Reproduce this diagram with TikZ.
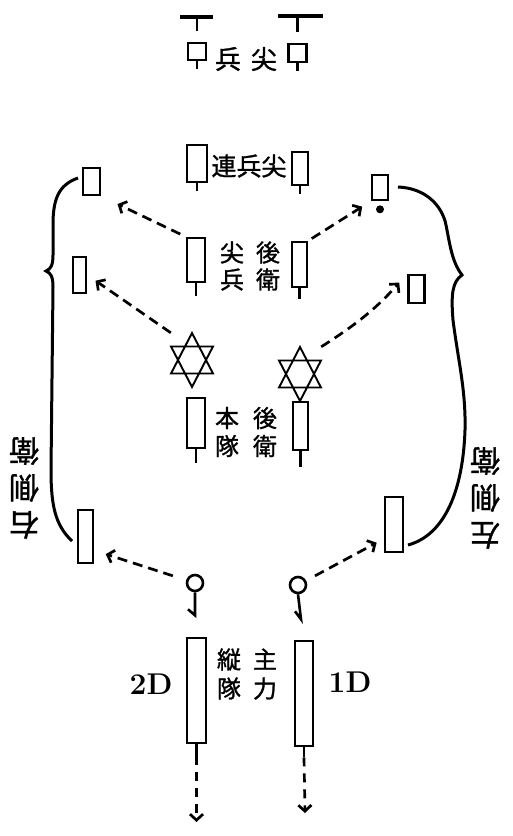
\documentclass[tikz,border=0pt]{standalone}
\usepackage{fontspec}
\newfontfamily\cjk{Noto Sans CJK JP}[RawFeature={embolden=1.2}]
\usepackage{tikz}
\usetikzlibrary{arrows.meta, positioning, calc}
\tikzstyle{unit} = [rectangle, draw=black, line width=2.6pt, inner sep=0pt, minimum width=16pt, fill=white]
\tikzstyle{spot} = [rectangle, inner sep=0pt, minimum width=42pt, minimum height=54pt]
\tikzstyle{ring} = [circle, draw=black, line width=2.6pt, inner sep=0pt, minimum size=16pt]
\tikzstyle{pole} = [line width=2.6pt]
\tikzstyle{kanji} = [inner sep=0pt, align=center, font=\cjk\fontsize{24}{27}\selectfont]
\tikzstyle{dasharrow} = [line width=2.7pt, dash pattern=on 10pt off 6pt, -{Straight Barb[length=6pt, width=13pt]}]
\tikzset{hexagram/.pic={\draw[line width=1.9pt] (0,-27) -- (21,13.5) -- (-21,13.5) -- cycle (0,27) -- (21,-13.5) -- (-21,-13.5) -- cycle;}}

\begin{document}
\begin{tikzpicture}[x=1pt, y=-1pt]
\useasboundingbox (0,0) rectangle (512,836);

% point
\node (t1) [unit, minimum width=18pt, minimum height=17pt] at (197,51.5) {};
\node (t2) [unit, minimum width=18pt, minimum height=18pt] at (297.5,53) {};
\node (t0) [kanji, font=\cjk\fontsize{26}{28}\selectfont] at (246,59) {兵\hspace{10pt}尖};
\draw[pole] (t1.north) ++(0,-11) -- ++(0,-14);
\draw[pole] (t2.north) ++(0,-11) -- ++(0,-16);
\draw[line width=4pt] (t1.north) ++(-17,-25) -- ++(33,0);
\draw[line width=4pt] (t2.north) ++(-20,-27) -- ++(45,0);
\draw[pole] (t1.south) -- ++(0,8);
\draw[pole] (t2.south) -- ++(0,8);

% company
\node (a1) [unit, minimum width=20pt, minimum height=37pt] at (197,163.5) {};
\node (a2) [unit, minimum height=33pt] at (300,168.5) {};
\node (a0) [kanji, font=\cjk\fontsize{25}{28}\selectfont] at (249,166) {連兵尖};
\draw[pole] (a1.south) -- ++(0,8);
\draw[pole] (a2.south) -- ++(0,8);

% flank posts
\node (f1) [unit, minimum width=17pt, minimum height=27pt] at (91.5,181.5) {};
\node (f2) [unit, minimum height=25pt] at (380,187.5) {};
\fill (f2.south) ++(0,8) circle (4pt);
\node (f3) [unit, minimum width=13pt, minimum height=36pt] at (79.5,275) {};
\node (f4) [unit, minimum width=16pt, minimum height=28pt] at (416.5,289) {};
\node (f5) [unit, minimum width=15pt, minimum height=53pt] at (85.5,536.5) {};
\node (f6) [unit, minimum width=18pt, minimum height=55pt] at (394,524.5) {};

% rear guard point
\node (b1) [unit, minimum width=18pt, minimum height=44pt] at (196,260) {};
\node (b2) [unit, minimum width=15pt, minimum height=45pt] at (299.5,264.5) {};
\node (b0) [kanji] at (250,266) {尖\hspace{12pt}後\\兵\hspace{12pt}衛};
\draw[pole] (b1.south) -- ++(0,13);
\draw[pole] (b2.south) -- ++(0,11);

% stars
\node (s1) [spot] at (192,360) {};
\node (s2) [spot] at (300,374) {};
\pic at (s1) {hexagram};
\pic at (s2) {hexagram};

% rear guard main body
\node (c1) [unit, minimum width=18pt, minimum height=50pt] at (196,423) {};
\node (c2) [unit, minimum width=15pt, minimum height=48pt] at (300.5,426) {};
\node (c0) [kanji, font=\cjk\fontsize{24}{28}\selectfont] at (246,432) {本\hspace{14pt}後\\隊\hspace{14pt}衛};
\draw[pole] (c1.south) -- ++(0,14);
\draw[pole] (c2.south) -- ++(0,16);

% flank guards
\node (e1) [kanji, font=\cjk\fontsize{30}{37}\selectfont, rotate=180] at (24,488) {右\\側\\衛};
\node (e2) [kanji, font=\cjk\fontsize{30}{37}\selectfont, rotate=180] at (485,498) {左\\側\\衛};
\draw[line width=3pt] (78,178) .. controls (58,185) and (53,200) .. (53,225) -- (53,255)
  .. controls (53,265) and (51,269) .. (46,271) .. controls (51,273) and (53,277) .. (53,287)
  -- (51,470) .. controls (51,505) and (55,525) .. (72,541);
\draw[line width=3pt] (398,187) .. controls (425,188) and (442,205) .. (446,225)
  .. controls (450,245) and (452,262) .. (462,275) .. controls (452,282) and (451,295) .. (453,320)
  .. controls (458,360) and (466,390) .. (465,430) .. controls (463,490) and (445,535) .. (408,545);

% rings
\node (r1) [ring] at (195,583) {};
\node (r2) [ring] at (298,585) {};
\draw[pole] (r1.south) -- ++(0,23) -- ++(-7,-6);
\draw[pole] (r2.south) -- ++(3,25) -- ++(-6,-8);

% main body
\node (d1) [unit, minimum width=19pt, minimum height=105pt] at (196.5,690.5) {};
\node (d2) [unit, minimum width=18pt, minimum height=105pt] at (304,693.5) {};
\node (d0) [kanji, font=\cjk\fontsize{24}{29}\selectfont] at (247,674) {縦\hspace{12pt}主\\隊\hspace{12pt}力};
\node (n1) [inner sep=0pt, font=\bfseries\fontsize{30}{32}\selectfont] at (151,684) {2D};
\node (n2) [inner sep=0pt, font=\bfseries\fontsize{30}{32}\selectfont] at (350,682) {1D};

% moves
\draw[dasharrow, shorten <=6pt, shorten >=18pt] (b1.north west) -- (f1.south east);
\draw[dasharrow, shorten <=4pt, shorten >=10pt] (b2.north east) -- (f2.south west);
\draw[dasharrow, shorten >=10pt] (s1.north west) -- (f3.east);
\draw[dasharrow, shorten >=12pt] (s2.north east) to[bend right=8] (f4.north west);
\draw[dasharrow, shorten <=14pt, shorten >=12pt] (r1) -- ($(f5.east)!0.5!(f5.south east)$);
\draw[dasharrow, shorten <=10pt, shorten >=8pt] (r2) -- ($(f6.west)!0.5!(f6.south west)$);

\draw[pole] (d1.south) -- ++(0,12) coordinate (d1s);
\draw[pole] (d2.south) -- ++(0,10) coordinate (d2s);
\coordinate (d1e) at (196.5,822);
\coordinate (d2e) at (305,813);
\draw[dasharrow, dash pattern=on 9pt off 7pt] (d1s) -- (d1e);
\draw[dasharrow, dash pattern=on 9pt off 7pt] (d2s) -- (d2e);
\end{tikzpicture}
\end{document}
